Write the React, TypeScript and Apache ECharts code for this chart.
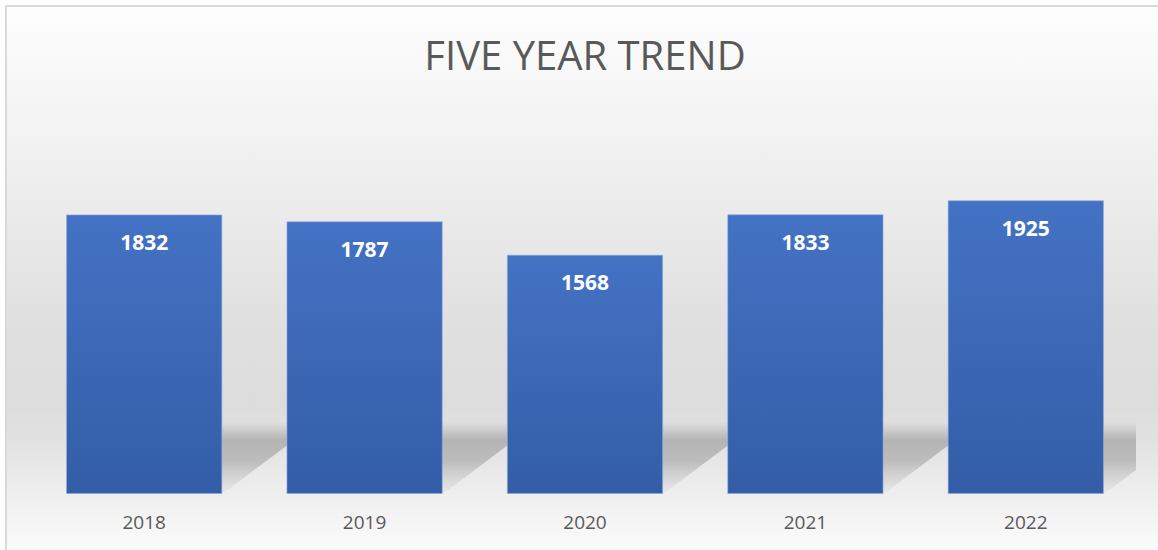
import React, { useEffect, useRef } from "react";
import * as echarts from "echarts";

const years = ["2018", "2019", "2020", "2021", "2022"];
const values = [1832, 1787, 1568, 1833, 1925];
const titleText = "FIVE YEAR TREND";

export default function App() {
  const ref = useRef<HTMLDivElement>(null);
  useEffect(() => {
    if (!ref.current) return;
    const chart = echarts.init(ref.current, undefined, { renderer: "svg" });
    const SHADOW_H = 72;
    const SHADOW_S = 96;
    const option: any = {
      animation: false,
      title: {
        text: titleText,
        left: 580,
        top: 29,
        textAlign: "center",
        textStyle: {
          fontFamily: "Open Sans",
          fontWeight: "normal",
          fontSize: 40,
          color: "#595959",
        },
      },
      grid: { left: 34, right: 22, top: 112.5, bottom: 56, containLabel: false },
      xAxis: {
        type: "category",
        data: years,
        axisLine: { show: false },
        axisTick: { show: false },
        axisLabel: {
          color: "#595959",
          fontSize: 19,
          fontFamily: "Open Sans",
          margin: 18,
        },
      },
      yAxis: {
        type: "value",
        min: 0,
        max: 2500,
        show: false,
        splitLine: { show: false },
      },
      series: [
        {
          type: "custom",
          z: 1,
          silent: true,
          data: values.map((v, i) => [i, v]),
          renderItem: (params: any, api: any) => {
            const idx = api.value(0);
            const base = api.coord([idx, 0]);
            const band = api.size([1, 0])[0];
            const bw = band / 1.41;
            const xL = base[0] - bw / 2;
            const xR = base[0] + bw / 2;
            const y0 = base[1];
            const maxX = params.coordSys.x + params.coordSys.width;
            const pts: number[][] = [
              [xL, y0],
              [xR, y0],
              [xR + SHADOW_S, y0 - SHADOW_H],
              [xL + SHADOW_S, y0 - SHADOW_H],
            ];
            const out: number[][] = [];
            for (let k = 0; k < pts.length; k++) {
              const a = pts[k];
              const b = pts[(k + 1) % pts.length];
              const aIn = a[0] <= maxX;
              const bIn = b[0] <= maxX;
              if (aIn) out.push(a);
              if (aIn !== bIn) {
                const t = (maxX - a[0]) / (b[0] - a[0]);
                out.push([maxX, a[1] + t * (b[1] - a[1])]);
              }
            }
            return {
              type: "polygon",
              shape: { points: out },
              style: {
                fill: new echarts.graphic.LinearGradient(0, 0, 0, 1, [
                  { offset: 0, color: "rgba(150,150,150,0)" },
                  { offset: 0.25, color: "rgba(150,150,150,0.6)" },
                  { offset: 0.55, color: "rgba(155,155,155,0.55)" },
                  { offset: 1, color: "rgba(190,190,190,0.12)" },
                ]),
              },
            };
          },
        },
        {
          type: "bar",
          z: 2,
          data: values,
          barCategoryGap: "29.1%",
          itemStyle: {
            color: new echarts.graphic.LinearGradient(0, 0, 0, 1, [
              { offset: 0, color: "#4472c4" },
              { offset: 1, color: "#335da7" },
            ]),
            borderColor: "rgba(140,170,220,0.6)",
            borderWidth: 1,
          },
          label: {
            show: true,
            position: "insideTop",
            distance: 17,
            color: "#ffffff",
            fontSize: 21,
            fontWeight: "bold",
            fontFamily: "Open Sans",
          },
        },
      ],
    };
    chart.setOption(option);
    return () => chart.dispose();
  }, []);

  return (
    <div
      style={{
        position: "fixed",
        left: 0,
        top: 0,
        width: 1158,
        height: 550,
        background: "#ffffff",
        overflow: "hidden",
      }}
    >
      <div
        style={{
          position: "absolute",
          left: 5,
          top: 5,
          width: 1160,
          height: 550,
          borderTop: "2px solid #d9d9d9",
          borderLeft: "2px solid #d9d9d9",
          background:
            "linear-gradient(to bottom, #fefefe 0%, #efefef 30%, #e1e1e1 55%, #dcdcdc 72%, #e2e2e2 79%, #efefef 89%, #f8f8f8 96%, #fbfbfb 100%)",
        }}
      />
      <div
        ref={ref}
        style={{ position: "absolute", left: 0, top: 0, width: 1158, height: 550 }}
      />
    </div>
  );
}
